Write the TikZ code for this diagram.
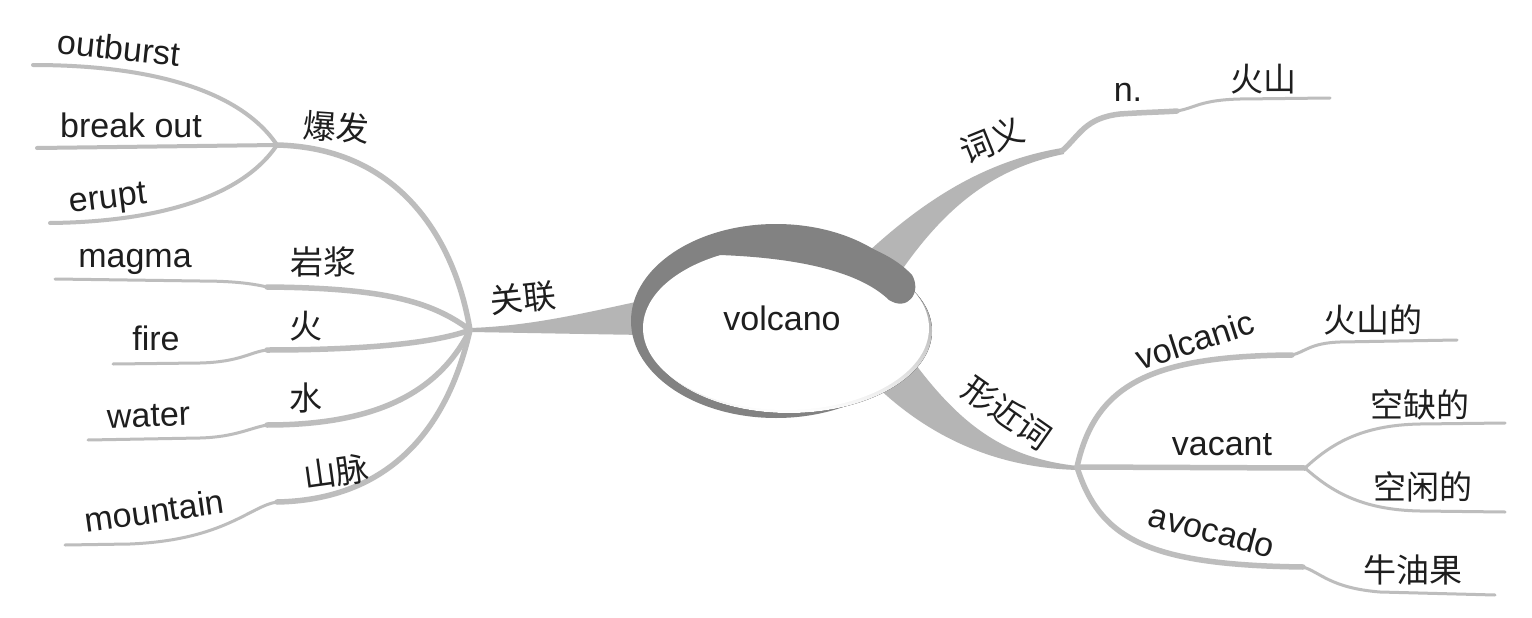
\documentclass[tikz,border=0pt]{standalone}
\usepackage{fontspec}
\setmainfont{Liberation Sans}
\newfontfamily\cjk{Noto Sans CJK SC}
\definecolor{branch}{HTML}{BDBDBD}
\definecolor{taperc}{HTML}{B5B5B5}
\definecolor{swirl}{HTML}{828282}
\definecolor{shade}{HTML}{C8C8C8}
\definecolor{txt}{HTML}{1E1E1E}
\begin{document}
\begin{tikzpicture}[x=1pt,y=-1pt,
  br/.style={draw=branch, line width=5.5pt, line cap=round},
  tipline/.style={draw=branch, line width=3pt, line cap=round},
  en/.style={font=\fontsize{34}{40}\selectfont, text=txt, inner sep=0pt},
  cn/.style={font=\cjk\fontsize{33}{40}\selectfont, text=txt, inner sep=0pt}]
\useasboundingbox (0,0) rectangle (1532,618);
\fill[white] (0,0) rectangle (1532,618);

% hubs and bends
\coordinate (L) at (470,330);
\coordinate (B) at (277,145);
\coordinate (oe) at (33,65);
\coordinate (be) at (37,148);
\coordinate (ee) at (50,223);
\coordinate (mn) at (267,287);
\coordinate (me) at (55,279);
\coordinate (fn) at (267,350);
\coordinate (fe) at (113,364);
\coordinate (wn) at (267,425);
\coordinate (we) at (88,440);
\coordinate (mtn) at (277,502);
\coordinate (mte) at (65,545);
\coordinate (R) at (1077,467);
\coordinate (vn) at (1292,355);
\coordinate (ve) at (1457,340);
\coordinate (vf) at (1305,468);
\coordinate (v1) at (1505,423);
\coordinate (v2) at (1505,512);
\coordinate (an) at (1303,567);
\coordinate (ae) at (1495,595);
\coordinate (Tn) at (1062,151);
\coordinate (Tn2) at (1177,111);
\coordinate (Te) at (1330,98);

% tapered main branches
\fill[taperc] (868,252) .. controls (930,195) and (990,160) .. (1062,148) -- (1064,154) .. controls (995,168) and (945,205) .. (895,280) -- cycle;
\fill[taperc] (470,328) .. controls (530,326) and (580,314) .. (645,300) -- (645,335) .. controls (580,334) and (530,333) .. (470,332) -- cycle;
\fill[taperc] (905,350) .. controls (955,420) and (1000,458) .. (1078,466) -- (1078,470) .. controls (1000,468) and (930,440) .. (870,380) -- cycle;

% left side
\draw[br] (L) .. controls (455,240) and (400,148) .. (B);
\draw[tipline, line width=4pt] (B) .. controls (240,90) and (150,65) .. (oe);
\draw[tipline, line width=4pt] (B) -- (be);
\draw[tipline, line width=4pt] (B) .. controls (240,200) and (150,222) .. (ee);
\draw[br] (L) .. controls (430,300) and (380,288) .. (mn);
\draw[tipline] (mn) .. controls (250,283) and (230,281) .. (200,281) -- (me);
\draw[br] (L) .. controls (430,345) and (350,350) .. (fn);
\draw[tipline] (fn) .. controls (250,352) and (240,362) .. (200,363) -- (fe);
\draw[br] (L) .. controls (440,390) and (380,425) .. (wn);
\draw[tipline] (wn) .. controls (250,428) and (235,437) .. (200,438) -- (we);
\draw[br] (L) .. controls (445,440) and (380,500) .. (mtn);
\draw[tipline] (mtn) .. controls (250,506) and (225,540) .. (130,544) -- (mte);

% right side
\draw[br] (R) .. controls (1095,385) and (1150,356) .. (vn);
\draw[tipline] (vn) .. controls (1305,352) and (1310,343) .. (1340,342) -- (ve);
\draw[br] (R) -- (vf);
\draw[tipline] (vf) .. controls (1330,445) and (1360,425) .. (1420,424) -- (v1);
\draw[tipline] (vf) .. controls (1330,490) and (1360,510) .. (1420,511) -- (v2);
\draw[br] (R) .. controls (1100,540) and (1150,565) .. (an);
\draw[tipline] (an) .. controls (1320,572) and (1330,588) .. (1380,592) -- (ae);

% top
\draw[br] (Tn) .. controls (1080,135) and (1085,118) .. (1120,114) .. controls (1150,112) and (1165,112) .. (Tn2);
\draw[tipline] (Tn2) .. controls (1195,108) and (1200,100) .. (1240,99) -- (Te);

% central swirl
\fill[swirl] (776,321) ellipse [x radius=145pt, y radius=97pt];
\fill[shade] (789,331) ellipse [x radius=143pt, y radius=82pt];
\fill[white] (786,328) ellipse [x radius=143pt, y radius=82pt];
\fill[swirl] (720,255) -- (720,233) .. controls (800,222) and (880,240) .. (912,275)
  .. controls (922,292) and (908,312) .. (889,300)
  .. controls (860,272) and (800,258) .. (720,255) -- cycle;

% texts
\node[en, anchor=base] (volcano) at (782,330) {volcano};
\node[en, anchor=base, rotate=-6] (outburst) at (118,60) {outburst};
\node[en, anchor=base] (breakout) at (131,137) {break out};
\node[en, anchor=base, rotate=7] (erupt) at (109,208) {erupt};
\node[en, anchor=base] (magma) at (135,267) {magma};
\node[en, anchor=base] (fire) at (156,350) {fire};
\node[en, anchor=base, rotate=2] (water) at (149,427) {water};
\node[en, anchor=base, rotate=8] (mountain) at (156,523) {mountain};
\node[en, anchor=base] (n) at (1128,102) {n.};
\node[en, anchor=base] (vacant) at (1222,455) {vacant};
\node[en, rotate=18] (volcanic) at (1195,340) {volcanic};
\node[en, rotate=-15] (avocado) at (1212,530) {avocado};

\node[cn, rotate=-4] (baofa) at (336,127) {爆发};
\node[cn] (yanjiang) at (323,262) {岩浆};
\node[cn] (huo) at (306,326) {火};
\node[cn] (shui) at (306,398) {水};
\node[cn, rotate=8] (shanmai) at (336,472) {山脉};
\node[cn, rotate=6] (guanlian) at (523,298) {关联};
\node[cn, rotate=22] (ciyi) at (992,140) {词义};
\node[cn] (huoshan) at (1263,79) {火山};
\node[cn, rotate=-35] (xingjinci) at (1007,413) {形近词};
\node[cn] (huoshande) at (1373,320) {火山的};
\node[cn] (kongque) at (1420,405) {空缺的};
\node[cn] (kongxian) at (1423,487) {空闲的};
\node[cn] (niuyouguo) at (1413,570) {牛油果};
\end{tikzpicture}
\end{document}
